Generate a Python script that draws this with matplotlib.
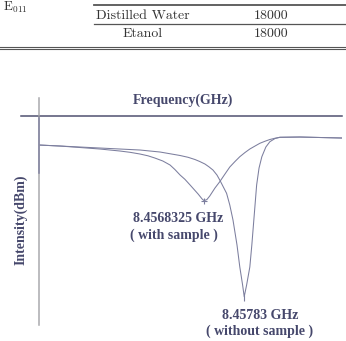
import matplotlib
matplotlib.use("Agg")
import matplotlib.pyplot as plt
from matplotlib.lines import Line2D

# ---- data ----
freq_with = [8.45271, 8.45323, 8.45373, 8.45423, 8.45473, 8.45498, 8.45523, 8.45543,
             8.45560, 8.45580, 8.45598, 8.45610, 8.45623, 8.45635, 8.45648, 8.45668,
             8.45678, 8.45683, 8.45690, 8.45697, 8.45710, 8.45722, 8.45735, 8.45747,
             8.45760, 8.45772, 8.45785, 8.45797, 8.45810, 8.45822, 8.45835, 8.45847,
             8.45860, 8.45872, 8.45922, 8.45972, 8.46027]
int_with = [-7.33, -7.58, -7.95, -8.33, -8.83, -9.15, -9.58, -10.03,
            -10.58, -11.33, -12.33, -13.45, -14.83, -15.90, -17.33, -19.58,
            -20.83, -21.25, -20.95, -20.08, -18.08, -16.50, -14.58, -12.83,
            -11.45, -10.25, -9.20, -8.33, -7.58, -6.90, -6.38, -5.95,
            -5.63, -5.40, -5.33, -5.45, -5.58]

freq_without = [8.45271, 8.45323, 8.45373, 8.45423, 8.45473, 8.45523, 8.45573, 8.45623,
                8.45643, 8.45660, 8.45672, 8.45685, 8.45695, 8.45705, 8.45715, 8.45722,
                8.45739, 8.45747, 8.45755, 8.45765, 8.45772, 8.45779, 8.45783, 8.45789,
                8.45797, 8.45802, 8.45806, 8.45810, 8.45814, 8.45820, 8.45827, 8.45837,
                8.45847, 8.45860, 8.45872, 8.45922, 8.45972, 8.46027]
int_without = [-7.33, -7.58, -7.83, -8.08, -8.33, -8.58, -9.08, -9.95,
               -10.40, -10.95, -11.45, -12.08, -12.78, -13.58, -14.83, -16.08,
               -19.40, -22.33, -26.08, -32.33, -37.83, -42.33, -45.25, -42.33,
               -37.83, -32.33, -27.33, -22.33, -17.33, -13.08, -10.25, -7.83,
               -6.50, -5.70, -5.40, -5.33, -5.45, -5.58]

min_with = (8.4568325, -21.25)
min_without = (8.45783, -45.25)

label_with = ["8.4568325 GHz", "( with sample )"]
label_without = ["8.45783 GHz", "( without sample )"]

table_rows = [["Distilled Water", "18000"], ["Etanol", "18000"]]

W, H = 346, 341
fig = plt.figure(figsize=(W / 100, H / 100), dpi=100)
fig.patch.set_facecolor("white")


def fx(x):
    return x / W


def fy(y):
    return 1 - y / H


curve_col = "#7c7e9e"
text_col = "#46486c"
axis_dark = "#4f5170"

# main plot axes
left, right, top, bottom = 38.5, 342, 115.7, 325
ax = fig.add_axes([fx(left), fy(bottom), fx(right) - fx(left), fy(top) - fy(bottom)])
ax.set_xlim(8.452697, 8.46027)
ax.set_ylim(-52.325, 0)
ax.set_facecolor("none")
for s in ["right", "bottom"]:
    ax.spines[s].set_visible(False)
ax.spines["top"].set_color(axis_dark)
ax.spines["top"].set_linewidth(1.1)
ax.spines["left"].set_color("#a9a9ad")
ax.spines["left"].set_linewidth(1.1)
ax.set_xticks([])
ax.set_yticks([])

ax.plot(freq_with, int_with, color=curve_col, lw=0.75, solid_joinstyle="round")
ax.plot(freq_without, int_without, color=curve_col, lw=0.75, solid_joinstyle="round")
ax.plot([min_with[0]], [min_with[1]], marker="+", ms=5, mew=0.8, color=curve_col)
ax.plot([min_without[0]], [min_without[1] - 0.3], marker="|", ms=4, mew=0.8, color=curve_col)

# axis extensions
fig.add_artist(Line2D([fx(20.7), fx(left)], [fy(top), fy(top)], color=axis_dark, lw=1.1))
fig.add_artist(Line2D([fx(left), fx(left)], [fy(98), fy(top)], color="#a9a9ad", lw=1.1))
fig.add_artist(Line2D([fx(left), fx(left)], [fy(118), fy(173)], color="#8485a2", lw=1.1))

serif_b = dict(family="Liberation Serif", weight="bold", color=text_col, fontsize=10)
fig.text(fx(183), fy(100), "Frequency(GHz)", ha="center", va="center", **serif_b)
fig.text(fx(21), fy(220), "Intensity(dBm)", ha="center", va="center", rotation=90, **serif_b)
fig.text(fx(178.5), fy(218.5), label_with[0], ha="center", va="center", **serif_b)
fig.text(fx(173.5), fy(235.5), label_with[1], ha="center", va="center", **serif_b)
fig.text(fx(260), fy(315.5), label_without[0], ha="center", va="center", **serif_b)
fig.text(fx(259.5), fy(331), label_without[1], ha="center", va="center", **serif_b)

# table fragment at top
tcol = "#333333"
fig.add_artist(Line2D([fx(94), fx(346)], [fy(4.5), fy(4.5)], color="#555555", lw=1.3))
fig.add_artist(Line2D([fx(94), fx(346)], [fy(24), fy(24)], color="#555555", lw=0.9))
fig.add_artist(Line2D([0, 1], [fy(46.7), fy(46.7)], color="#555555", lw=0.8))
fig.add_artist(Line2D([0, 1], [fy(49.3), fy(49.3)], color="#555555", lw=0.8))
row_y = [15.5, 34]
for (name, val), yy in zip(table_rows, row_y):
    fig.text(fx(142.5), fy(yy), name, ha="center", va="center", family="cmr10",
             fontsize=10, color=tcol)
    fig.text(fx(271.5), fy(yy), val, ha="center", va="center", family="cmr10",
             fontsize=10, color=tcol)
fig.text(fx(3), fy(11), r"$\mathrm{E}_{011}$", ha="left", va="baseline", fontsize=9.5,
         color=tcol, math_fontfamily="cm")

fig.savefig("out.png", dpi=100, facecolor="white")
